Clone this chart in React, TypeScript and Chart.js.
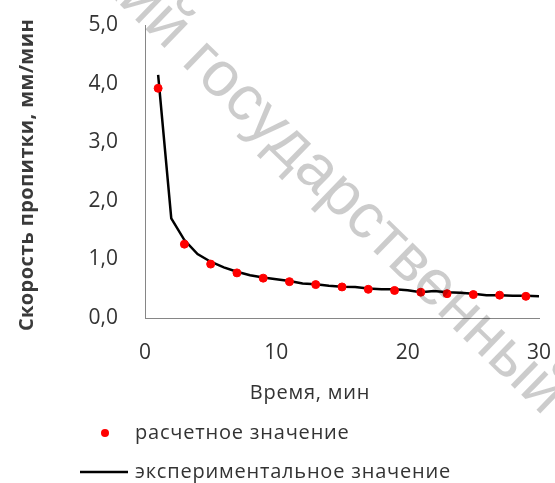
import React, { useEffect, useRef } from "react";
import { Chart, registerables } from "chart.js";

Chart.register(...registerables);

const timeExp: number[] = [1,2,3,4,5,6,7,8,9,10,11,12,13,14,15,16,17,18,19,20,21,22,23,24,25,26,27,28,29,30];
const speedExp: number[] = [4.15,1.70,1.33,1.09,0.96,0.865,0.79,0.73,0.69,0.66,0.63,0.59,0.575,0.55,0.535,0.53,0.505,0.49,0.49,0.475,0.44,0.46,0.44,0.43,0.415,0.39,0.39,0.38,0.38,0.37];
const timeCalc: number[] = [1,3,5,7,9,11,13,15,17,19,21,23,25,27,29];
const speedCalc: number[] = [3.92,1.26,0.92,0.77,0.68,0.62,0.57,0.53,0.49,0.47,0.44,0.415,0.40,0.39,0.37];

const seriesCalcLabel = "расчетное значение";
const seriesExpLabel = "экспериментальное значение";
const xTitle = "Время, мин";
const yTitle = "Скорость пропитки, мм/мин";
const watermarkText = "ский государственный";

const FONT = "'Open Sans', sans-serif";
const TEXT = "#333333";

const decor = {
  id: "decor",
  afterDraw(chart: any) {
    const ctx = chart.ctx as any;
    ctx.save();
    ctx.fillStyle = TEXT;
    ctx.letterSpacing = "0.8px";
    ctx.font = `20px ${FONT}`;
    ctx.textAlign = "center";
    ctx.textBaseline = "middle";
    ctx.fillText(xTitle, 310, 393);
    ctx.save();
    ctx.translate(27, 175);
    ctx.rotate(-Math.PI / 2);
    ctx.font = `bold 20px ${FONT}`;
    ctx.letterSpacing = "0.4px";
    ctx.fillStyle = "#3a3a3a";
    ctx.fillText(yTitle, 0, 0);
    ctx.restore();
    // legend
    ctx.textAlign = "left";
    ctx.fillStyle = "#ff0000";
    ctx.beginPath();
    ctx.arc(105, 433, 4, 0, Math.PI * 2);
    ctx.fill();
    ctx.fillStyle = TEXT;
    ctx.fillText(seriesCalcLabel, 135, 433);
    ctx.strokeStyle = "#000";
    ctx.lineWidth = 2.5;
    ctx.beginPath();
    ctx.moveTo(80, 472);
    ctx.lineTo(128, 472);
    ctx.stroke();
    ctx.fillText(seriesExpLabel, 135, 472);
    // watermark
    ctx.letterSpacing = "0px";
    const wmFont = (s: number) => `${s}px 'Liberation Sans', Arial, sans-serif`;
    ctx.font = wmFont(100);
    const centerOf = (prefix: string, ch: string) =>
      ctx.measureText(prefix).width + ctx.measureText(ch).width / 2;
    const dRef = centerOf("ский государст", "в") - centerOf("ский г", "о");
    const size = (263 / dRef) * 100;
    ctx.font = wmFont(size);
    ctx.fillStyle = "rgba(0,0,0,0.2)";
    ctx.translate(221, 80);
    ctx.rotate((44.2 * Math.PI) / 180);
    const pre = centerOf("ский г", "о");
    ctx.textBaseline = "alphabetic";
    ctx.fillText(watermarkText, -pre, size * 0.26);
    ctx.restore();
  },
};

export default function App() {
  const ref = useRef<HTMLCanvasElement>(null);
  useEffect(() => {
    document.body.style.margin = "0";
    const chart = new Chart(ref.current!, {
      type: "scatter",
      data: {
        datasets: [
          {
            label: seriesCalcLabel,
            data: timeCalc.map((x, i) => ({ x, y: speedCalc[i] })),
            backgroundColor: "#ff0000",
            borderColor: "#ff0000",
            pointRadius: 4,
            showLine: false,
            order: 1,
          },
          {
            label: seriesExpLabel,
            data: timeExp.map((x, i) => ({ x, y: speedExp[i] })),
            borderColor: "#000000",
            borderWidth: 2.5,
            pointRadius: 0,
            showLine: true,
            order: 2,
          },
        ],
      },
      options: {
        animation: false,
        responsive: false,
        layout: { padding: { top: 25, right: 16, left: 0, bottom: 0 } },
        plugins: { legend: { display: false }, tooltip: { enabled: false } },
        scales: {
          x: {
            type: "linear",
            min: 0,
            max: 30,
            ticks: { stepSize: 10, padding: 22, color: TEXT, font: { family: FONT, size: 21 } },
            grid: { display: false, drawTicks: false },
            border: { color: "#868686", width: 1 },
            afterFit: (s: any) => {
              s.height = 165;
              s.paddingLeft = 0;
              s.paddingRight = 0;
            },
          },
          y: {
            min: 0,
            max: 5,
            ticks: {
              stepSize: 1,
              padding: 27,
              color: TEXT,
              font: { family: FONT, size: 21 },
              callback: (v: any) => Number(v).toFixed(1).replace(".", ","),
            },
            grid: { display: false, drawTicks: false },
            border: { color: "#868686", width: 1 },
            afterFit: (s: any) => {
              s.width = 145;
              s.paddingTop = 0;
              s.paddingBottom = 0;
            },
          },
        },
      },
      plugins: [decor],
    });
    return () => chart.destroy();
  }, []);
  return <canvas ref={ref} width={555} height={483} style={{ display: "block" }} />;
}
